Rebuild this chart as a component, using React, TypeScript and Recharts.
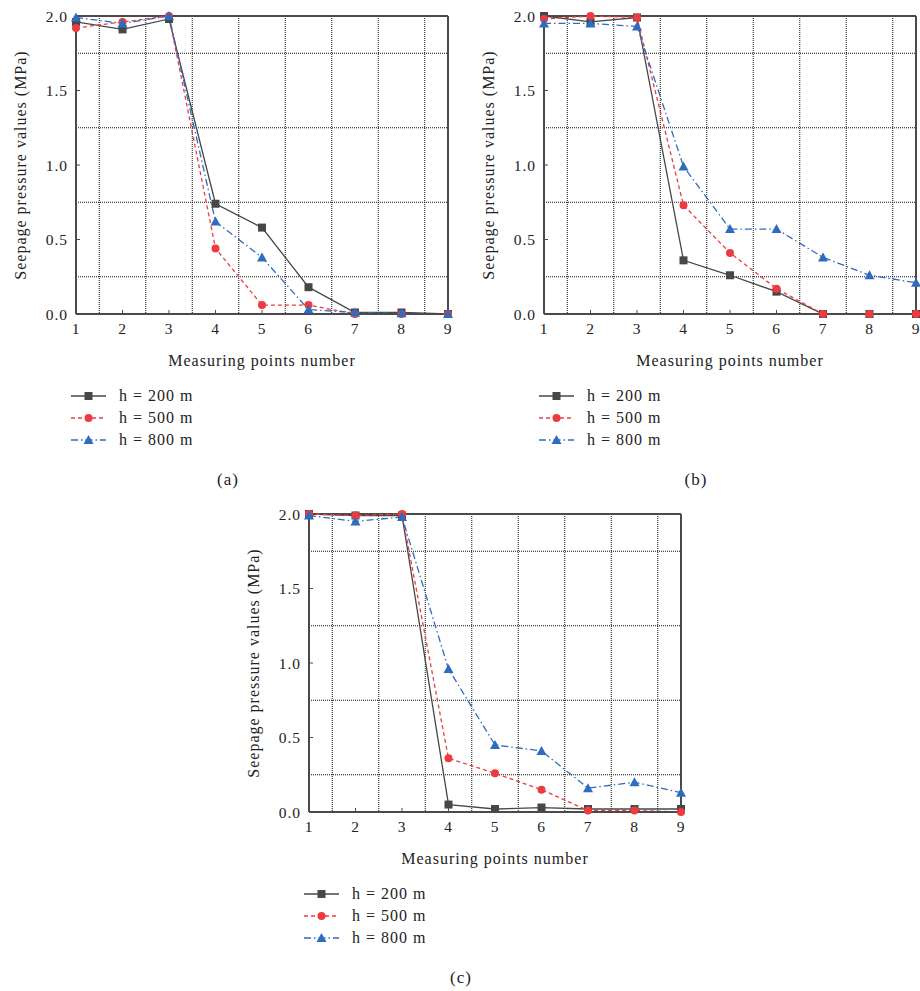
import React from 'react';
import { LineChart, Line, XAxis, YAxis, CartesianGrid, Legend, ReferenceLine } from 'recharts';

const points = [1, 2, 3, 4, 5, 6, 7, 8, 9];
const yTicks = [0, 0.5, 1.0, 1.5, 2.0];
const gridY = [0.25, 0.75, 1.25, 1.75];
const gridX = [1.5, 2.5, 3.5, 4.5, 5.5, 6.5, 7.5, 8.5];
const seriesNames = ['h = 200 m', 'h = 500 m', 'h = 800 m'];

// panel (a)
const a200 = [1.96, 1.91, 1.98, 0.74, 0.58, 0.18, 0.01, 0.01, 0.0];
const a500 = [1.92, 1.96, 2.0, 0.44, 0.06, 0.06, 0.0, 0.0, 0.0];
const a800 = [1.99, 1.95, 2.0, 0.62, 0.38, 0.03, 0.01, 0.005, 0.0];
// panel (b)
const b200 = [2.0, 1.96, 1.99, 0.36, 0.26, 0.15, 0.0, 0.0, 0.0];
const b500 = [1.98, 2.0, 1.99, 0.73, 0.41, 0.17, 0.0, 0.0, 0.0];
const b800 = [1.95, 1.95, 1.93, 0.99, 0.57, 0.57, 0.38, 0.26, 0.21];
// panel (c)
const c200 = [2.0, 1.99, 1.99, 0.05, 0.02, 0.03, 0.02, 0.02, 0.02];
const c500 = [2.0, 1.99, 2.0, 0.36, 0.26, 0.15, 0.01, 0.01, 0.0];
const c800 = [1.99, 1.95, 1.98, 0.96, 0.45, 0.41, 0.16, 0.2, 0.13];

const styles = [
  { color: '#474747', dash: undefined as string | undefined, marker: 'square' },
  { color: '#ee3b40', dash: '4 3', marker: 'circle' },
  { color: '#2e6cbd', dash: '7 3 1.5 3', marker: 'triangle' },
];

const FONT = '"Liberation Serif", "Times New Roman", serif';
const AXIS = '#4a4a4a';

const buildRows = (s200: number[], s500: number[], s800: number[]) =>
  points.map((p, i) => ({ p, h200: s200[i], h500: s500[i], h800: s800[i] }));

const Marker = ({ cx, cy, kind, color }: { cx: number; cy: number; kind: string; color: string }) => {
  if (kind === 'square') return <rect x={cx - 4} y={cy - 4} width={8} height={8} fill={color} />;
  if (kind === 'circle') return <circle cx={cx} cy={cy} r={4} fill={color} />;
  return <polygon points={`${cx},${cy - 5} ${cx + 5},${cy + 4} ${cx - 5},${cy + 4}`} fill={color} />;
};

const makeDot = (kind: string, color: string) => (props: any) => {
  const { cx, cy, index } = props;
  if (cx == null || cy == null) return <g key={`d-${index}`} />;
  return (
    <g key={`d-${index}`}>
      <Marker cx={cx} cy={cy} kind={kind} color={color} />
    </g>
  );
};

const renderLegend = () => (
  <div style={{ fontSize: 16, color: '#222', letterSpacing: 1 }}>
    {seriesNames.map((name, i) => (
      <div key={name} style={{ display: 'flex', alignItems: 'center', height: 22 }}>
        <svg width={36} height={22}>
          <line x1={0} x2={35} y1={11} y2={11} stroke={styles[i].color} strokeWidth={1.3} strokeDasharray={styles[i].dash} />
          <Marker cx={17.5} cy={11} kind={styles[i].marker} color={styles[i].color} />
        </svg>
        <span style={{ marginLeft: 12 }}>{name}</span>
      </div>
    ))}
  </div>
);

const xTitle = (props: any) => {
  const { viewBox } = props;
  return (
    <text x={viewBox.x + viewBox.width / 2} y={viewBox.y + 52} textAnchor="middle" fontSize={16} fill="#222">
      Measuring points number
    </text>
  );
};

const yTitle = (props: any) => {
  const { viewBox } = props;
  const x = viewBox.x + 20;
  const y = viewBox.y + viewBox.height / 2;
  return (
    <text x={x} y={y} transform={`rotate(-90, ${x}, ${y})`} textAnchor="middle" dominantBaseline="central" fontSize={16} fill="#222">
      Seepage pressure values (MPa)
    </text>
  );
};

const Panel = ({ left, top, rows, tag }: { left: number; top: number; rows: any[]; tag: string }) => (
  <div style={{ position: 'absolute', left, top, width: 456, height: 500 }}>
    <LineChart width={456} height={470} data={rows} margin={{ top: 16, right: 8, bottom: 100, left: 0 }}>
      <CartesianGrid horizontalValues={gridY} verticalValues={gridX} stroke="#111" strokeDasharray="1 1" strokeWidth={1} />
      <XAxis
        type="number"
        dataKey="p"
        domain={[1, 9]}
        ticks={points}
        height={56}
        stroke={AXIS}
        axisLine={{ stroke: AXIS, strokeWidth: 2 }}
        tickSize={-4}
        tickMargin={13}
        tick={{ fill: '#222', fontSize: 15.5 }}
        label={xTitle}
      />
      <YAxis
        type="number"
        domain={[0, 2]}
        ticks={yTicks}
        width={76}
        stroke={AXIS}
        axisLine={{ stroke: AXIS, strokeWidth: 2 }}
        tickSize={-4}
        tickMargin={12}
        tick={{ fill: '#222', fontSize: 15.5 }}
        tickFormatter={(v: number) => v.toFixed(1)}
        label={yTitle}
      />
      <ReferenceLine y={2} stroke={AXIS} strokeWidth={2} />
      <ReferenceLine x={9} stroke={AXIS} strokeWidth={2} />
      {['h200', 'h500', 'h800'].map((key, i) => (
        <Line
          key={key}
          dataKey={key}
          name={seriesNames[i]}
          type="linear"
          stroke={styles[i].color}
          strokeWidth={1.3}
          strokeDasharray={styles[i].dash}
          dot={makeDot(styles[i].marker, styles[i].color)}
          activeDot={false}
          isAnimationActive={false}
        />
      ))}
      <Legend
        layout="vertical"
        align="center"
        verticalAlign="middle"
        content={renderLegend}
        wrapperStyle={{ position: 'absolute', left: 71, top: 385, width: 200 }}
      />
    </LineChart>
    <div style={{ position: 'absolute', left: 228, top: 480, transform: 'translate(-50%, -50%)', fontSize: 17, color: '#222' }}>
      {tag}
    </div>
  </div>
);

export default function App() {
  return (
    <div style={{ position: 'absolute', left: 0, top: 0, width: 920, height: 991, background: '#fff', fontFamily: FONT, letterSpacing: '1px' }}>
      <Panel left={0} top={0} rows={buildRows(a200, a500, a800)} tag="(a)" />
      <Panel left={468} top={0} rows={buildRows(b200, b500, b800)} tag="(b)" />
      <Panel left={233} top={498} rows={buildRows(c200, c500, c800)} tag="(c)" />
    </div>
  );
}
